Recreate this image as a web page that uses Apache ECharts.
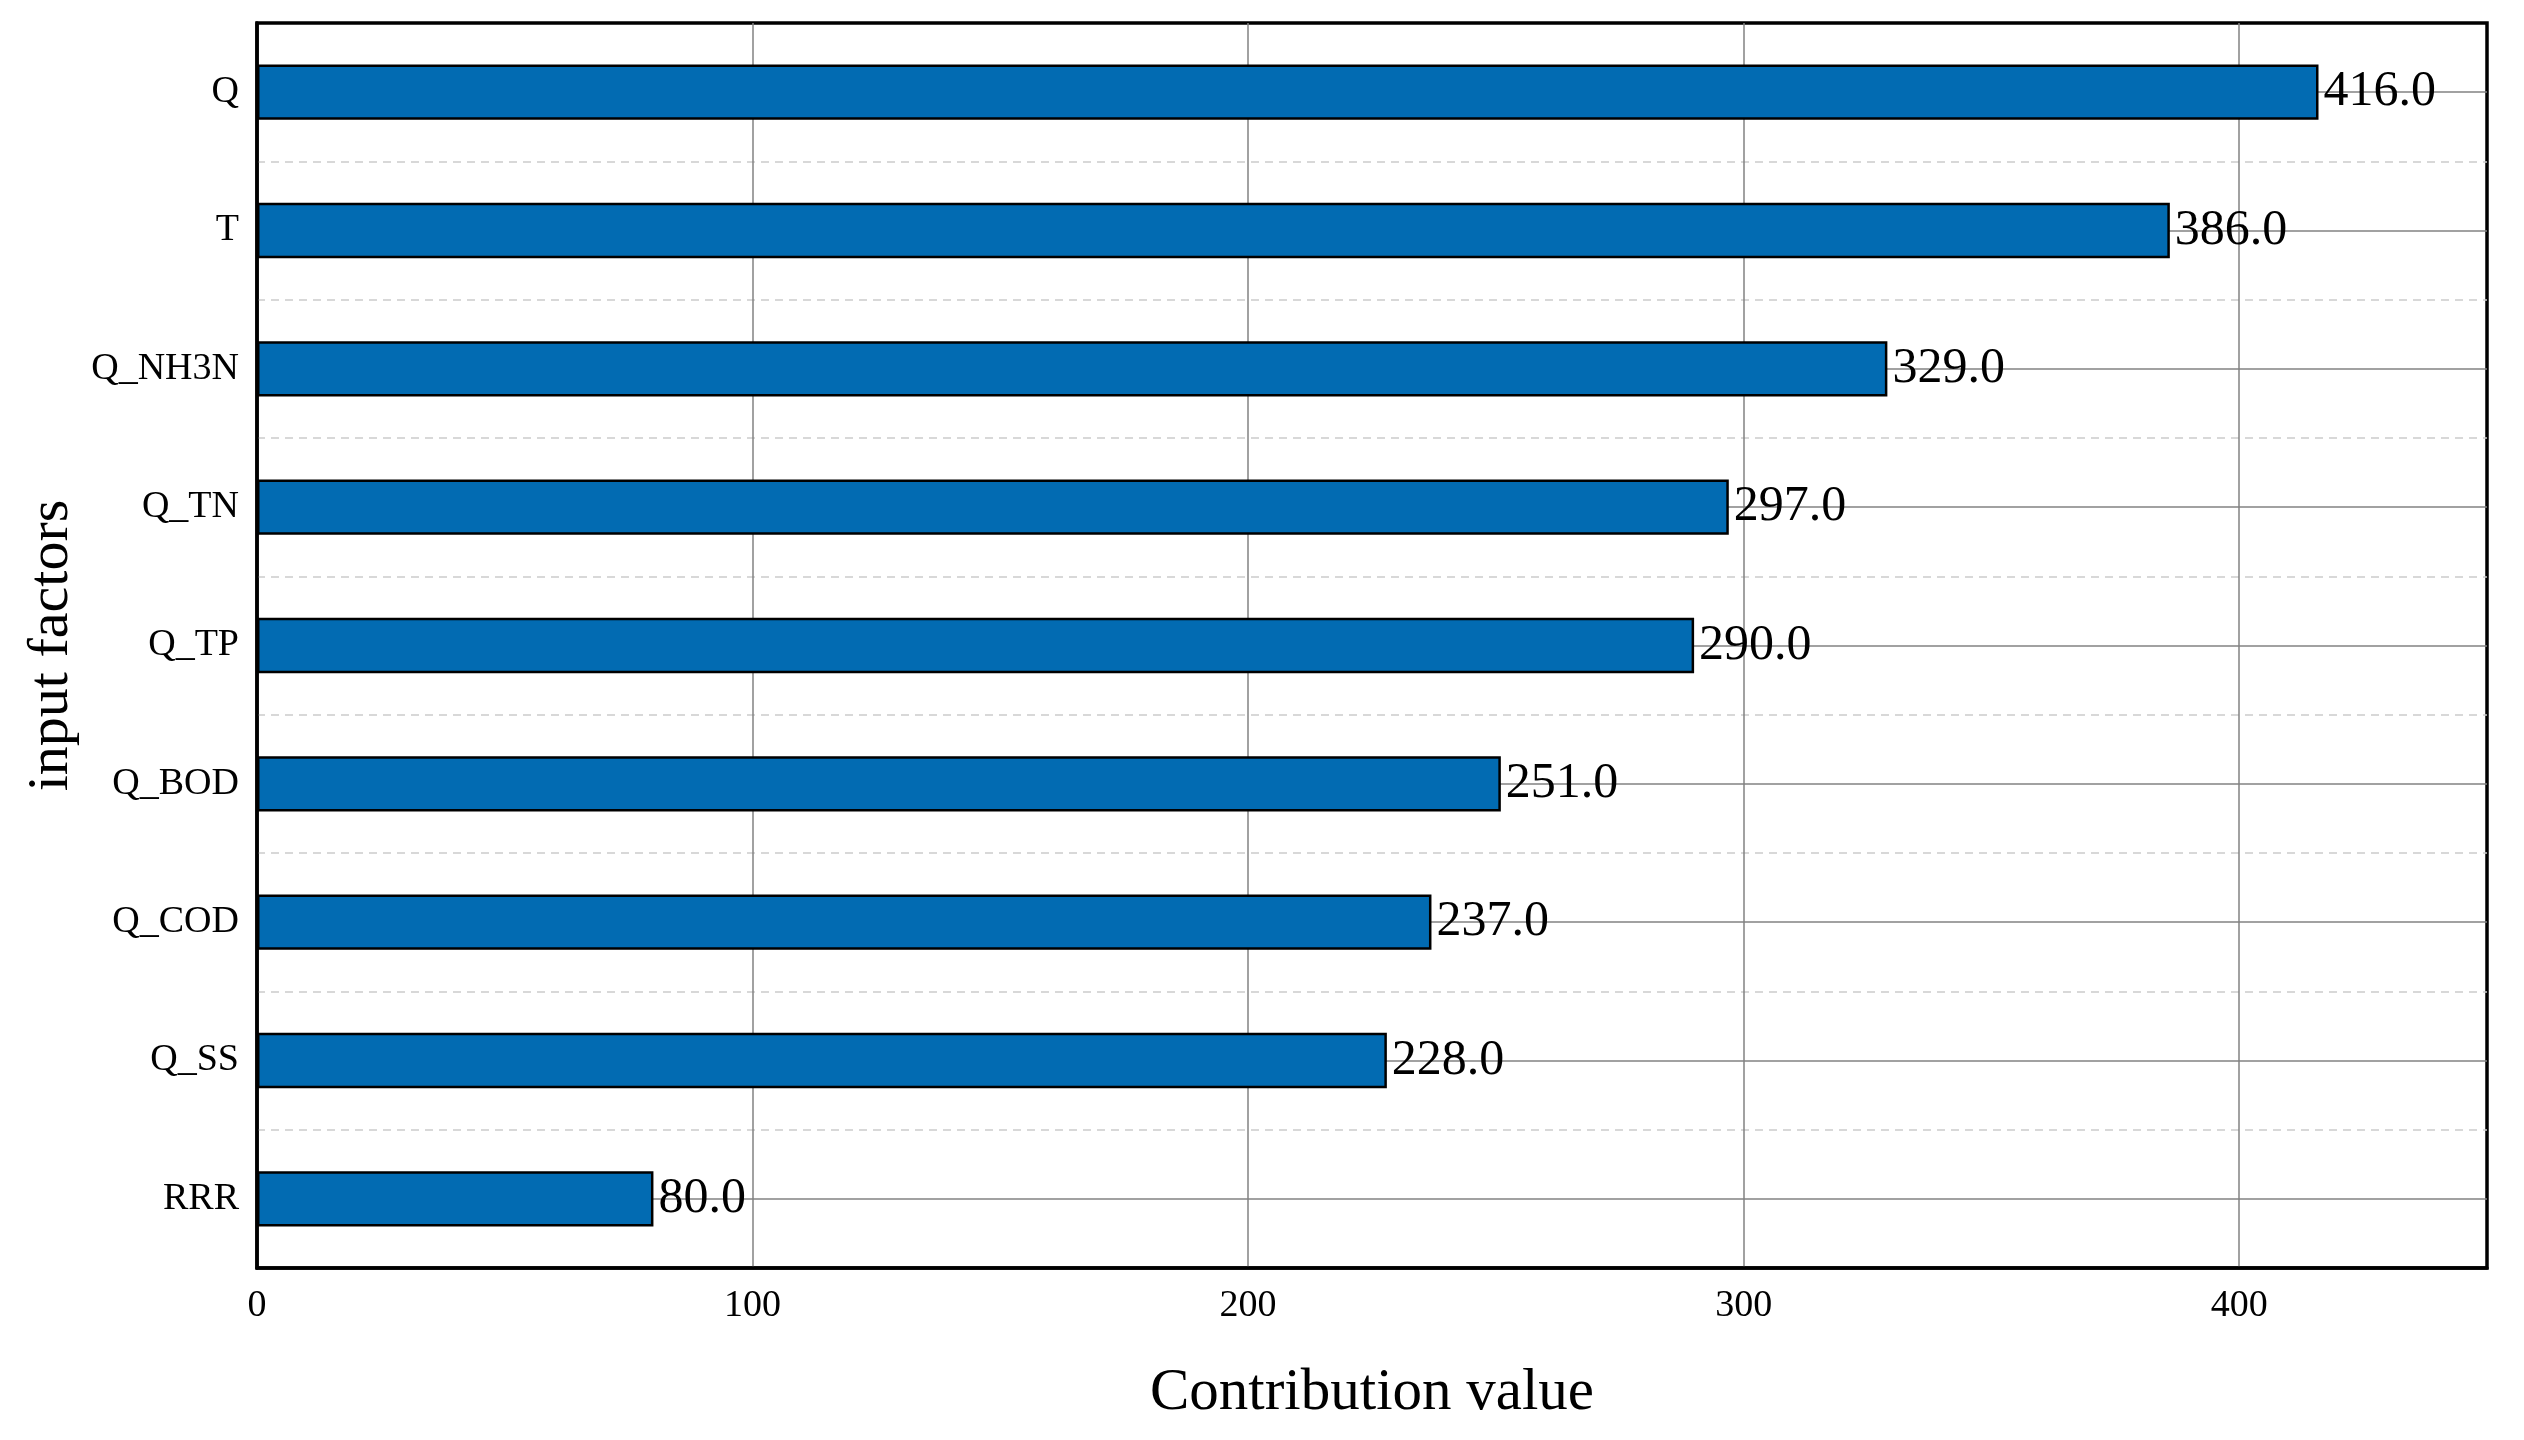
<!DOCTYPE html>
<html>
<head>
<meta charset="utf-8">
<script src="https://cdn.jsdelivr.net/npm/echarts@6/dist/echarts.min.js"></script>
<style>
html,body{margin:0;padding:0;background:#fff;}
#chart{width:2524px;height:1440px;}
</style>
</head>
<body>
<div id="chart"></div>
<script>
const categories = ['Q', 'T', 'Q_NH3N', 'Q_TN', 'Q_TP', 'Q_BOD', 'Q_COD', 'Q_SS', 'RRR'];
const contributionValues = [416, 386, 329, 297, 290, 251, 237, 228, 80];
const xTickMin = 0;
const xTickMax = 450;
const xTickInterval = 100;

const FONT = "'Liberation Serif', 'Times New Roman', serif";
const chart = echarts.init(document.getElementById('chart'), null, {renderer: 'canvas'});

chart.setOption({
  animation: false,
  backgroundColor: '#ffffff',
  grid: {
    left: 257, right: 37, top: 23, bottom: 172,
    show: true, borderColor: '#000', borderWidth: 3.5, backgroundColor: 'transparent',
    containLabel: false
  },
  xAxis: {
    type: 'value',
    min: xTickMin, max: xTickMax, interval: xTickInterval,
    name: 'Contribution value',
    nameLocation: 'middle',
    nameGap: 96,
    nameTextStyle: {fontFamily: FONT, fontSize: 59, color: '#000'},
    axisLine: {show: true, lineStyle: {color: '#000', width: 3.5}},
    axisTick: {show: false},
    axisLabel: {fontFamily: FONT, fontSize: 38, color: '#000', margin: 19, showMaxLabel: false},
    splitLine: {show: true, showMinLine: false, showMaxLine: false, lineStyle: {color: '#828282', width: 1.5, type: 'solid'}}
  },
  yAxis: {
    type: 'category',
    data: categories,
    inverse: true,
    name: 'input factors',
    nameLocation: 'middle',
    nameGap: 176,
    nameTextStyle: {fontFamily: FONT, fontSize: 58, color: '#000'},
    axisLine: {show: true, lineStyle: {color: '#000', width: 3.5}},
    axisTick: {show: false},
    axisLabel: {fontFamily: FONT, fontSize: 38, color: '#000', margin: 18},
    splitLine: {show: true, showMinLine: false, showMaxLine: false, lineStyle: {color: '#cccccc', width: 1.5, type: [8, 6]}}
  },
  series: [{
    type: 'bar',
    data: contributionValues,
    barWidth: '40%',
    itemStyle: {color: '#026BB2', borderColor: '#000', borderWidth: 2.5},
    label: {
      show: true, position: 'right', distance: 5,
      fontFamily: FONT, fontSize: 50, color: '#000',
      formatter: p => p.value.toFixed(1)
    },
    markLine: {
      silent: true,
      z: 1,
      symbol: ['none', 'none'],
      label: {show: false},
      lineStyle: {color: '#828282', width: 1.5, type: 'solid'},
      emphasis: {disabled: true},
      data: categories.map(c => ({yAxis: c}))
    }
  }]
});
</script>
</body>
</html>
